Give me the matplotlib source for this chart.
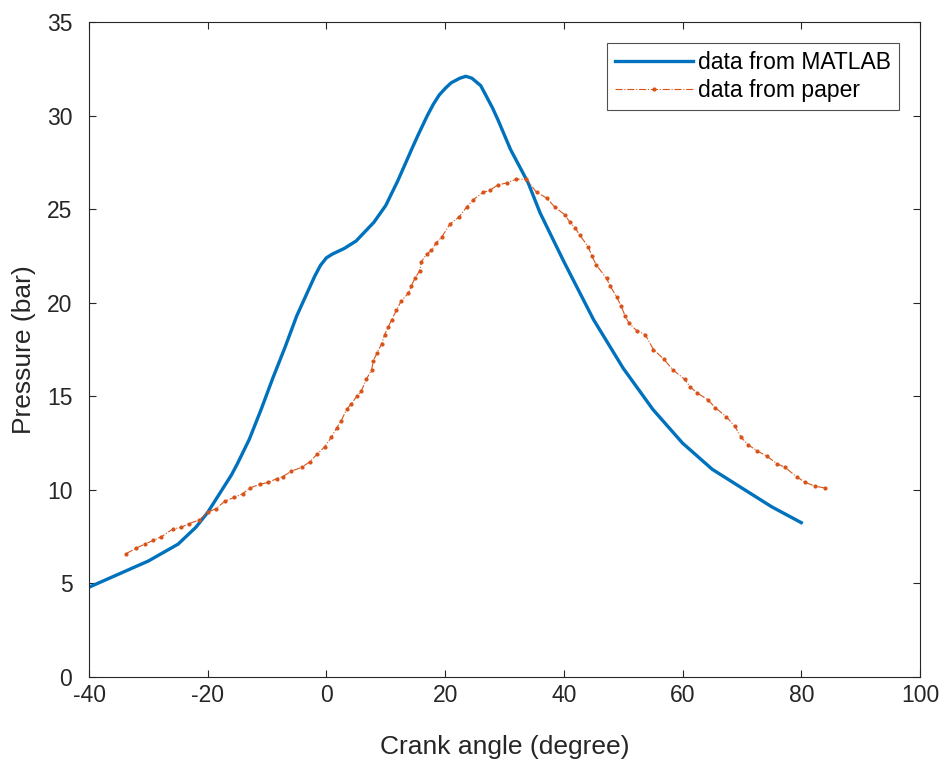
import matplotlib.pyplot as plt

plt.rcParams['font.family'] = ['Liberation Sans', 'DejaVu Sans']
plt.rcParams['axes.unicode_minus'] = False

# data from MATLAB (blue curve)
matlab_angle = [-40, -35, -30, -25, -22, -20, -18, -16, -15, -13, -11, -9, -7, -5, -3, -2, -1,
                0, 1, 3, 5, 8, 10, 12, 14.5, 15.5, 17, 18, 19, 20, 21, 22.5, 23.5, 24.5, 26, 28,
                29, 31, 34, 36, 40, 45, 50, 55, 60, 65, 70, 75, 80]
matlab_pressure = [4.8, 5.5, 6.2, 7.1, 8.0, 8.8, 9.8, 10.8, 11.4, 12.7, 14.3, 16.0, 17.6, 19.3, 20.7, 21.4, 22.0,
                   22.4, 22.6, 22.9, 23.3, 24.3, 25.2, 26.5, 28.3, 29.0, 30.0, 30.6, 31.1, 31.45, 31.75, 32.0, 32.1, 32.0, 31.6, 30.4,
                   29.7, 28.2, 26.4, 24.8, 22.2, 19.1, 16.5, 14.3, 12.5, 11.1, 10.1, 9.1, 8.25]

# data from paper (red dotted curve)
paper_angle = [-33.7, -32.0, -30.6, -29.2, -27.8, -25.9, -24.5, -23.1, -21.4, -20.0,
               -18.6, -17.1, -15.5, -14.1, -12.9, -11.2, -9.8, -8.4, -7.4, -5.9,
               -4.2, -2.8, -1.6, -0.3, 0.8, 1.7, 2.5, 3.4, 4.2, 5.1,
               5.9, 6.7, 7.6, 7.9, 8.5, 9.3, 9.8, 10.4, 11.0, 11.8,
               12.6, 13.8, 14.3, 14.9, 15.7, 16.0, 16.9, 17.7, 18.5, 19.4,
               20.8, 22.4, 23.6, 24.7, 26.4, 27.5, 28.9, 30.4, 31.9, 33.7,
               35.4, 37.1, 38.5, 40.2, 41.0, 41.9, 42.7, 44.1, 44.7, 45.5,
               47.2, 47.8, 48.9, 49.7, 50.3, 51.0, 52.3, 53.7, 55.1, 56.8,
               58.4, 60.4, 61.3, 62.4, 64.3, 65.5, 67.4, 68.8, 69.9, 71.1,
               72.5, 74.2, 75.9, 77.3, 79.2, 80.7, 82.3, 84.0]
paper_pressure = [6.6, 6.9, 7.1, 7.3, 7.5, 7.9, 8.0, 8.2, 8.4, 8.8,
                  9.0, 9.4, 9.6, 9.8, 10.1, 10.3, 10.4, 10.6, 10.7, 11.0,
                  11.2, 11.5, 11.9, 12.3, 12.8, 13.3, 13.7, 14.3, 14.6, 15.0,
                  15.3, 15.9, 16.4, 16.9, 17.3, 17.8, 18.3, 18.7, 19.1, 19.6,
                  20.1, 20.5, 20.9, 21.3, 21.7, 22.2, 22.6, 22.8, 23.2, 23.5,
                  24.2, 24.6, 25.1, 25.5, 25.9, 26.0, 26.3, 26.4, 26.6, 26.6,
                  25.9, 25.6, 25.1, 24.7, 24.3, 24.0, 23.6, 23.0, 22.5, 22.0,
                  21.3, 20.9, 20.3, 19.8, 19.3, 18.9, 18.5, 18.3, 17.5, 17.0,
                  16.4, 15.9, 15.5, 15.2, 14.8, 14.4, 13.9, 13.4, 12.8, 12.4,
                  12.1, 11.8, 11.4, 11.2, 10.7, 10.4, 10.2, 10.1]

fig = plt.figure(figsize=(9.49, 7.62), dpi=100)
ax = fig.add_axes([0.0938, 0.1115, 0.8756, 0.8596])

ax.plot(matlab_angle, matlab_pressure, color='#0072BD', lw=2.4, label='data from MATLAB')
ax.plot(paper_angle, paper_pressure, color='#D95319', lw=0.8, ls='-.', marker='.',
        markersize=4, label='data from paper')

ax.set_xlim(-40, 100)
ax.set_ylim(0, 35)
ax.set_xticks(range(-40, 101, 20))
ax.set_yticks(range(0, 36, 5))
ax.tick_params(direction='in', top=True, right=True, labelsize=16.5,
               colors='#262626', length=5)
ax.tick_params(axis='x', pad=5)
ax.tick_params(axis='y', pad=12)
for s in ax.spines.values():
    s.set_color('#262626')
    s.set_linewidth(0.8)

ax.set_xlabel('Crank angle (degree)', fontsize=19, color='#262626', labelpad=20)
ax.set_ylabel('Pressure (bar)', fontsize=19, color='#262626', labelpad=8)

leg = ax.legend(loc='upper right', fontsize=16.5, handlelength=3.4, handletextpad=0.25,
                fancybox=False, edgecolor='#262626', borderaxespad=0.9,
                borderpad=0.35, labelspacing=0.25)
leg.get_frame().set_linewidth(0.8)

fig.savefig('out.png', dpi=100)
